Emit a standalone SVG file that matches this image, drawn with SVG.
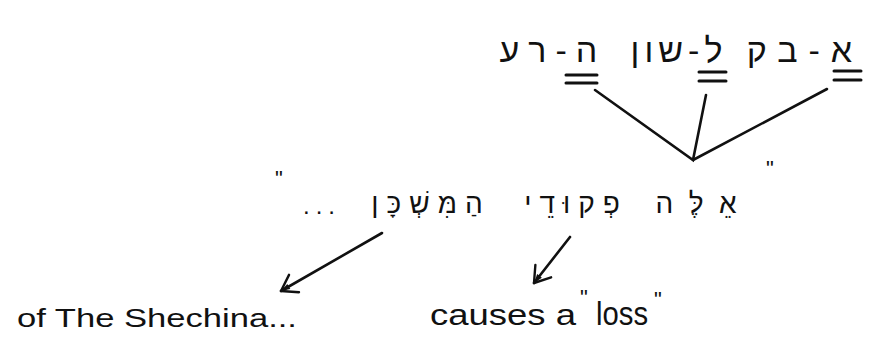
<svg xmlns="http://www.w3.org/2000/svg" width="881" height="351" viewBox="0 0 881 351">
  <style>
    .heb { font-family: "Liberation Sans", "DejaVu Sans", sans-serif; fill: #111; }
    .eng { font-family: "Liberation Sans", "DejaVu Sans", sans-serif; fill: #111; }
    .ul { stroke: #111; stroke-width: 3; stroke-linecap: round; fill: none; }
    .conn { stroke: #111; stroke-width: 2.6; stroke-linecap: round; fill: none; }
  </style>
  <defs>
    <marker id="arrow" markerUnits="userSpaceOnUse" markerWidth="30" markerHeight="30" refX="0" refY="0" viewBox="-20 -15 25 30" orient="auto" overflow="visible">
      <path d="M -15,-10 L 0,0 L -15,10" fill="none" stroke="#111" stroke-width="2.4" stroke-linecap="round" stroke-linejoin="round"/>
      <path d="M -9,-3 L 0,0 L -9,3 Z" fill="#111"/>
    </marker>
  </defs>
  <rect width="881" height="351" fill="#ffffff"/>

  <g id="avak-lashon-hara">
    <text class="heb" x="553" y="62" font-size="34" text-anchor="middle" letter-spacing="9">ה-רע</text>
    <text class="heb" x="679" y="62" font-size="34" text-anchor="middle" letter-spacing="5">ל-שון</text>
    <text class="heb" x="805" y="62" font-size="34" text-anchor="middle" letter-spacing="11">א-בק</text>
    <path class="ul" d="M 566,75 H 597 M 566,83 H 597"/>
    <path class="ul" d="M 699,72 H 726 M 699,81 H 726"/>
    <path class="ul" d="M 834,71 H 861 M 834,80 H 861"/>
  </g>

  <g id="verse">
    <text class="heb" x="766" y="176" font-size="22">"</text>
    <text class="heb" x="704" y="213" font-size="28" text-anchor="middle" letter-spacing="16">אֵלֶּה</text>
    <text class="heb" x="576" y="213" font-size="28" text-anchor="middle" letter-spacing="8">פְקוּדֵי</text>
    <text class="heb" x="431" y="213" font-size="28" text-anchor="middle" letter-spacing="8">הַמִּשְׁכָּן</text>
    <text class="heb" x="322" y="214" font-size="24" text-anchor="middle" letter-spacing="6">...</text>
    <text class="heb" x="279" y="186" font-size="22" text-anchor="middle">"</text>
  </g>

  <g id="of-the-shechina">
    <text class="eng" x="17" y="327" font-size="25" textLength="280" lengthAdjust="spacingAndGlyphs">of The Shechina...</text>
  </g>

  <g id="causes-a-loss">
    <text class="eng" x="430" y="325" font-size="29" textLength="146" lengthAdjust="spacingAndGlyphs">causes a</text>
    <text class="eng" x="580" y="305" font-size="22">"</text>
    <text class="eng" x="596" y="325" font-size="33" textLength="52" lengthAdjust="spacingAndGlyphs">loss</text>
    <text class="eng" x="654" y="307" font-size="22">"</text>
  </g>

  <g id="connectors">
    <path class="conn" d="M 595,90 L 693,160 L 706,95"/>
    <path class="conn" d="M 693,160 L 827,89"/>
    <path class="conn" d="M 382,233 L 281,291" marker-end="url(#arrow)"/>
    <path class="conn" d="M 570,237 L 534,283" marker-end="url(#arrow)"/>
  </g>
</svg>
